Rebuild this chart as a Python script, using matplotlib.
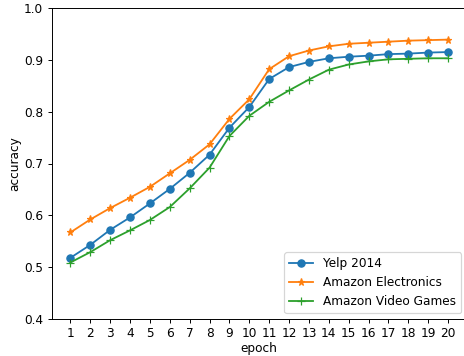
import matplotlib
matplotlib.use("Agg")
import matplotlib.pyplot as plt

epochs = list(range(1, 21))
yelp = [0.518, 0.543, 0.572, 0.596, 0.623, 0.651, 0.682, 0.717, 0.769, 0.809,
        0.863, 0.886, 0.896, 0.903, 0.906, 0.908, 0.911, 0.912, 0.914, 0.915]
electronics = [0.567, 0.592, 0.614, 0.634, 0.655, 0.681, 0.707, 0.737, 0.786, 0.824,
               0.882, 0.907, 0.918, 0.926, 0.931, 0.933, 0.935, 0.937, 0.938, 0.939]
video_games = [0.509, 0.529, 0.552, 0.571, 0.591, 0.616, 0.652, 0.692, 0.753, 0.792,
               0.819, 0.841, 0.862, 0.881, 0.891, 0.897, 0.901, 0.902, 0.903, 0.903]

dpi = 87
fig = plt.figure(figsize=(464 / dpi, 356 / dpi), dpi=dpi)
# the right spine falls just outside the picture, as in the reference
ax = fig.add_axes([51.5 / 464, 1 - 319 / 356, (467 - 51.5) / 464, (319 - 8) / 356])

ax.plot(epochs, yelp, marker="o", label="Yelp 2014")
ax.plot(epochs, electronics, marker="*", label="Amazon Electronics")
ax.plot(epochs, video_games, marker="+", label="Amazon Video Games")

ax.set_xlim(0.05, 20.95)
ax.set_ylim(0.4, 1.0)
ax.set_xticks(epochs)
ax.set_xlabel("epoch", labelpad=1)
ax.set_ylabel("accuracy", labelpad=2)
ax.legend(loc="lower right")

fig.savefig("out.png", dpi=dpi)
